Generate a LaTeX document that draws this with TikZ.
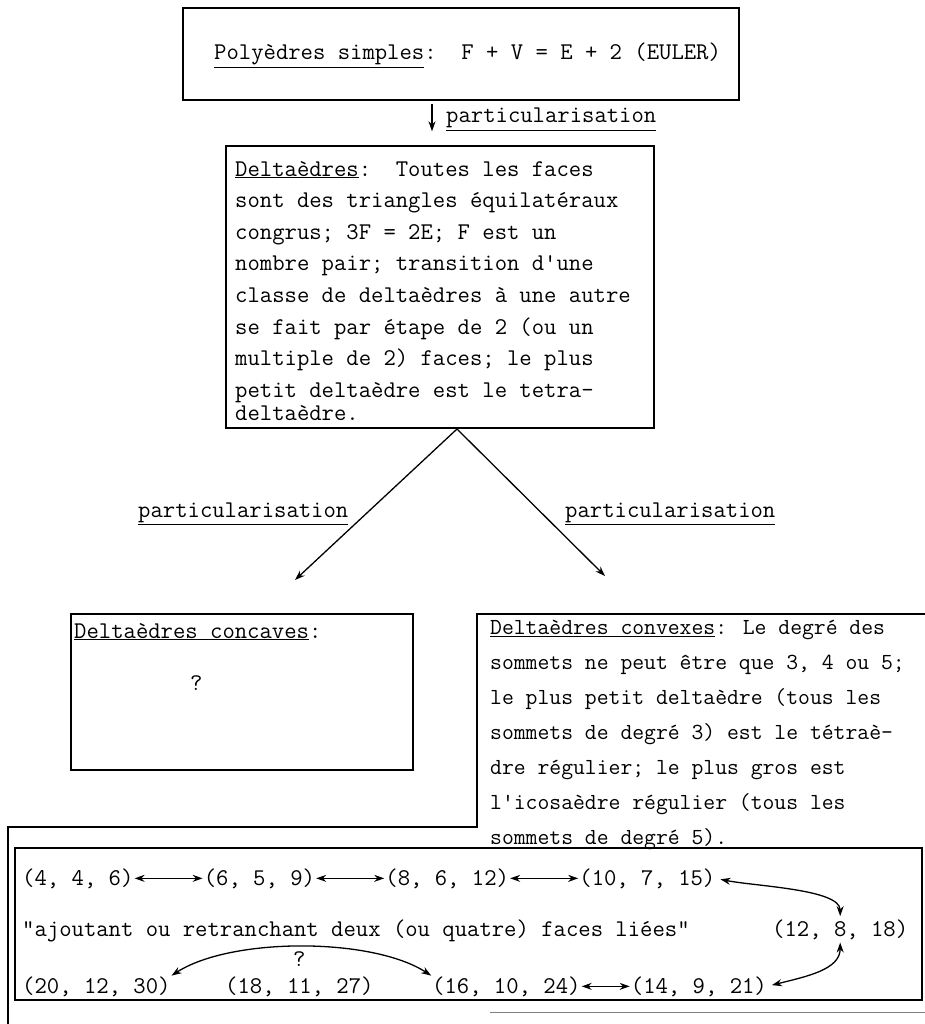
\documentclass[tikz,border=0pt]{standalone}
\usepackage{fontspec}
\usepackage{tikz}
\usetikzlibrary{arrows.meta,positioning}

\begin{document}
\begin{tikzpicture}[
    x=1pt, y=-1pt,
    font=\ttfamily\fontsize{24}{31.6}\selectfont,
    >={Stealth[length=10pt,width=7pt]},
    cadre/.style={draw, line width=1.3pt, inner sep=0pt},
    texte/.style={inner sep=0pt, anchor=base west},
    bloc/.style={inner sep=0pt, anchor=north west, align=left},
    fleche/.style={->, line width=1.3pt},
    lien/.style={<->, line width=1.3pt},
  ]
  \useasboundingbox (0,0) rectangle (925,1024);

  % polyedres simples
  \node[cadre, minimum width=556pt, minimum height=92pt] (poly) at (461,54) {};
  \node[texte] (polytxt) at (214,60) {\underline{Polyèdres simples}:\ \ F + V = E + 2 (EULER)};

  % deltaedres
  \node[cadre, minimum width=428pt, minimum height=282pt] (delta) at (440,287) {};
  \node[bloc] (deltatxt) at (235,161) {\underline{Deltaèdres}:\ \ Toutes les faces\\
    sont des triangles équilatéraux\\
    congrus; 3F = 2E; F est un\\
    nombre pair; transition d'une\\
    classe de deltaèdres à une autre\\
    se fait par étape de 2 (ou un\\
    multiple de 2) faces; le plus\\
    petit deltaèdre est le tetra-\\[-8.5pt]
    deltaèdre.};

  \coordinate (xa) at (432,0);
  \draw[fleche, shorten <=3pt, shorten >=14pt] (poly.south -| xa) -- (delta.north -| xa);
  \node[texte] (part1) at (446,123) {\underline{particularisation}};

  % les deux branches
  \coordinate (sommet) at (457,429);
  \coordinate (bout1) at (295,580);
  \coordinate (bout2) at (605,576);
  \draw[fleche] (sommet) -- (bout1);
  \draw[fleche] (sommet) -- (bout2);
  \node[texte] (part2) at (138,517) {\underline{particularisation}};
  \node[texte] (part3) at (565,517) {\underline{particularisation}};

  % concaves
  \node[cadre, minimum width=342pt, minimum height=156pt] (concave) at (242,692) {};
  \node[texte] (concavetxt) at (74,638) {\underline{Deltaèdres concaves}:};
  \node[texte] (concaveq) at (190,690) {?};

  % convexes et grand cadre
  \draw[line width=1.3pt] (925,614) -- (477,614) -- (477,827) -- (8,827) -- (8,1024);
  \node[bloc, font=\ttfamily\fontsize{23}{35}\selectfont] (convextxt) at (490,620) {\underline{Deltaèdres convexes}: Le degré des\\
    sommets ne peut être que 3, 4 ou 5;\\
    le plus petit deltaèdre (tous les\\
    sommets de degré 3) est le tétraè-\\
    dre régulier; le plus gros est\\
    l'icosaèdre régulier (tous les\\
    sommets de degré 5).};

  % suites (F, S, A)
  \node[cadre, minimum width=907pt, minimum height=152pt] (suites) at (468.5,924) {};
  \node[texte] (s4) at (22,885) {(4, 4, 6)};
  \node[texte, right=70pt of s4] (s6) {(6, 5, 9)};
  \node[texte, right=70pt of s6] (s8) {(8, 6, 12)};
  \node[texte, right=70pt of s8] (s10) {(10, 7, 15)};
  \node[texte] (liees) at (22,936) {"ajoutant ou retranchant deux (ou quatre) faces liées"};
  \node[texte] (s12) at (772,936) {(12, 8, 18)};
  \node[texte] (s20) at (22,993) {(20, 12, 30)};
  \node[texte] (s18) at (225,993) {(18, 11, 27)};
  \node[texte] (s16) at (432,993) {(16, 10, 24)};
  \node[texte, right=50pt of s16] (s14) {(14, 9, 21)};
  \node[inner sep=0pt, above=9pt of s18] (q18) {?};

  \draw[lien, shorten <=1pt, shorten >=1pt] (s4) -- (s6);
  \draw[lien, shorten <=1pt, shorten >=1pt] (s6) -- (s8);
  \draw[lien, shorten <=1pt, shorten >=1pt] (s8) -- (s10);
  \draw[lien, shorten <=1pt, shorten >=1pt] (s16) -- (s14);
  \draw[lien, shorten <=5pt, shorten >=3pt] (s10.east) .. controls +(40,8) and +(0,-30) .. (s12.north);
  \draw[lien, shorten <=3pt, shorten >=5pt] (s12.south) .. controls +(0,30) and +(40,-10) .. (s14.east);
  \draw[lien, shorten <=1pt, shorten >=1pt] (s20.north east) .. controls +(60,-39) and +(-60,-39) .. (s16.north west);

  \draw[gray, line width=1pt] (490,1012) -- (925,1012);
\end{tikzpicture}
\end{document}
